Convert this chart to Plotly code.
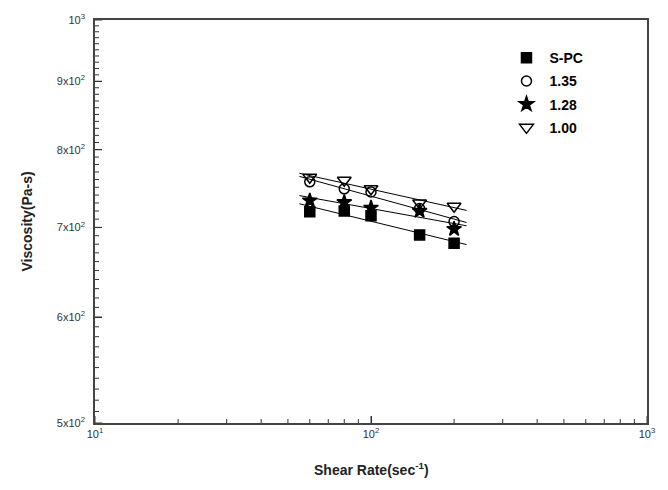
import numpy as np
import plotly.graph_objects as go

shear_rate = [60, 80, 100, 150, 200]
visc_spc = [719, 720, 714, 691, 681]
visc_135 = [757, 748, 744, 723, 707]
visc_128 = [733, 731, 724, 720, 698]
visc_100 = [763, 759, 748, 730, 726]

series_names = ["S-PC", "1.35", "1.28", "1.00"]
series_values = [visc_spc, visc_135, visc_128, visc_100]
symbols = ["square", "circle-open", "star", "triangle-down-open"]
sizes = [10, 10, 11, 12]

fit_range = [55, 222]

x_tickvals = [10, 100, 1000]
x_ticktext = ["10<sup>1</sup>", "10<sup>2</sup>", "10<sup>3</sup>"]
y_tickvals = [500, 600, 700, 800, 900, 1000]
y_ticktext = ["5x10<sup>2</sup>\u00a0\u00a0", "6x10<sup>2</sup>\u00a0\u00a0",
              "7x10<sup>2</sup>\u00a0\u00a0", "8x10<sup>2</sup>\u00a0\u00a0",
              "9x10<sup>2</sup>\u00a0\u00a0", "10<sup>3</sup>\u00a0\u00a0"]
x_minor = [20, 30, 40, 50, 60, 70, 80, 90, 200, 300, 400, 500, 600, 700, 800, 900]
y_minor = [v for v in range(510, 1000, 10) if v % 100 != 0]

fig = go.Figure()

# power-law fit lines (straight in log-log)
lx = np.log10(shear_rate)
xf = np.array(fit_range, dtype=float)
for vals in series_values:
    b, a = np.polyfit(lx, np.log10(vals), 1)
    yf = 10 ** (a + b * np.log10(xf))
    fig.add_trace(go.Scatter(x=xf, y=yf, mode="lines",
                             line=dict(color="black", width=1),
                             showlegend=False, hoverinfo="skip"))

for i, (name, vals, sym, sz) in enumerate(zip(series_names, series_values, symbols, sizes)):
    fig.add_trace(go.Scatter(
        x=shear_rate, y=vals, mode="markers", name=name,
        legendgroup=f"g{i}",
        marker=dict(symbol=sym, size=sz, color="black",
                    line=dict(color="black", width=1.5)),
    ))

# inside tick marks drawn as axis-referenced shapes (pixel-length)
tick_shapes = []
for v, ln in [(v, 7) for v in x_tickvals] + [(v, 4) for v in x_minor]:
    tick_shapes.append(dict(type="line", xref="x", yref="paper",
                            ysizemode="pixel", yanchor=0, x0=v, x1=v, y0=0, y1=ln,
                            line=dict(color="#333", width=1), layer="above"))
for v, ln in [(v, 7) for v in y_tickvals] + [(v, 4) for v in y_minor]:
    tick_shapes.append(dict(type="line", xref="paper", yref="y",
                            xsizemode="pixel", xanchor=0, y0=v, y1=v, x0=0, x1=ln,
                            line=dict(color="#333", width=1), layer="above"))

tickfont = dict(family="Liberation Sans, Arial", size=11, color="#333")

fig.update_layout(
    width=668, height=490,
    margin=dict(l=95, r=21, t=16, b=67),
    paper_bgcolor="white", plot_bgcolor="white",
    xaxis=dict(type="log", range=[1, 3], showline=True, mirror=True,
               linecolor="#444", linewidth=1.5, showgrid=False, zeroline=False,
               ticks="inside", ticklen=7, tickwidth=1, tickcolor="#333",
               tickmode="array", tickvals=x_tickvals, ticktext=x_ticktext,
               tickfont=tickfont),
    yaxis=dict(type="log", range=[float(np.log10(500)), 3], showline=True, mirror=True,
               linecolor="#444", linewidth=1.5, showgrid=False, zeroline=False,
               ticks="inside", ticklen=7, tickwidth=1, tickcolor="#333",
               tickmode="array", tickvals=y_tickvals, ticktext=y_ticktext,
               tickfont=tickfont),
    shapes=tick_shapes,
    legend=dict(x=0.74, y=0.945, xanchor="left", yanchor="top",
                traceorder="grouped", tracegroupgap=2, itemwidth=36,
                bgcolor="rgba(0,0,0,0)",
                font=dict(family="Liberation Sans, Arial", size=14, color="black",
                          weight="bold")),
    showlegend=True,
    annotations=[
        dict(text="<b>Shear Rate(sec<sup>-1</sup>)</b>", xref="paper", yref="paper",
             x=0.5, y=-0.115, xanchor="center", yanchor="middle", showarrow=False,
             font=dict(family="Liberation Sans, Arial", size=14, color="#222")),
        dict(text="<b>Viscosity(Pa-s)</b>", xref="paper", yref="paper",
             x=-0.125, y=0.5, xanchor="center", yanchor="middle", showarrow=False,
             textangle=-90,
             font=dict(family="Liberation Sans, Arial", size=14, color="#222")),
    ],
)

fig.write_html("out.html")
